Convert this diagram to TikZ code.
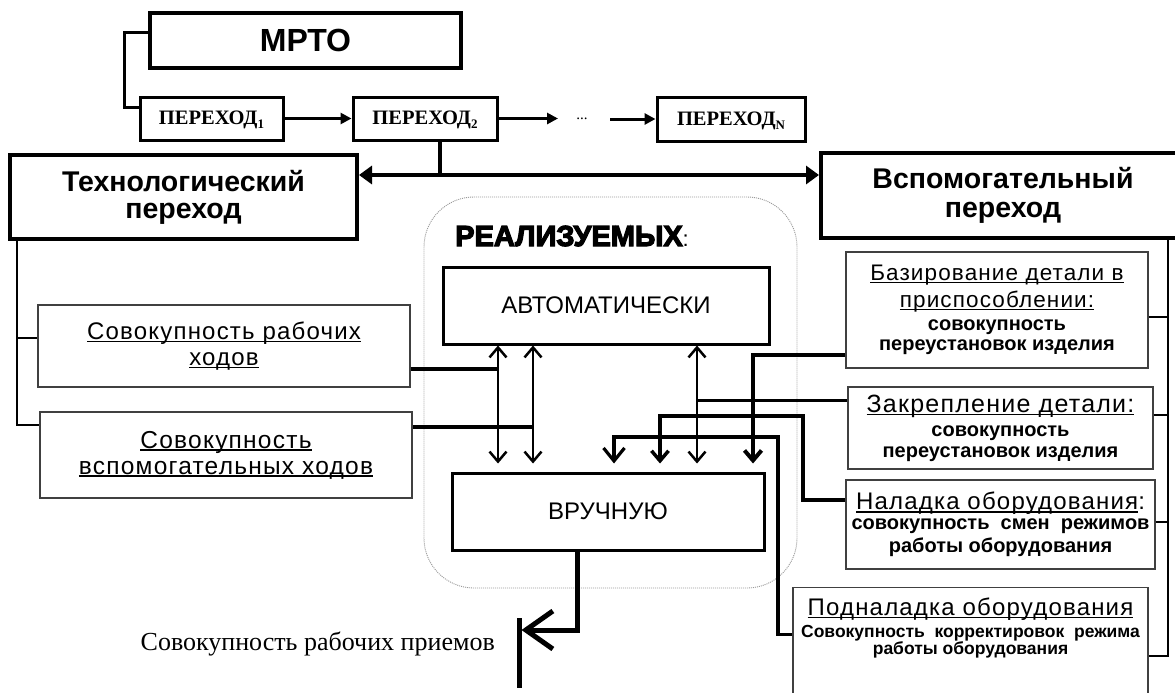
\documentclass[tikz,border=0pt]{standalone}
\usepackage{fontspec}
\setmainfont{Liberation Sans}
\newfontfamily\serifrm{Liberation Serif}
\newfontfamily\heavy[BoldFeatures={FakeBold=4}]{Liberation Sans}
\newfontfamily\spaced[LetterSpace=5]{Liberation Sans}
\usetikzlibrary{arrows.meta}
\newcommand\ulx[1]{\leavevmode\setbox0\hbox{#1}\rlap{\rule[-0.12em]{\wd0}{0.065em}}\box0}
\newcommand\fsz[2]{\fontsize{#1}{#2}\selectfont}
\newcommand\bl[1]{{\normalfont\bfseries\fsz{20}{20}#1}}
\newcommand\lowsub[1]{\raisebox{-4.5pt}{\fsz{13}{13}#1}}
\tikzset{
  thickbox/.style={draw, line width=4pt, inner sep=0pt, align=center},
  midbox/.style={draw, line width=3pt, inner sep=0pt, align=center},
  thinbox/.style={draw=black!75, line width=1.2pt, inner sep=0pt, align=center},
  perbox/.style={midbox, font=\serifrm\bfseries\fsz{20.5}{22}, text height=16pt, text depth=4pt},
  c2/.style={line width=2.2pt},
  c3/.style={line width=3pt},
  c4/.style={line width=4pt},
  tri/.style={-{Triangle[length=11pt,width=11pt]}},
  dtri/.style={{Triangle[length=13pt,width=18pt]}-{Triangle[length=13pt,width=18pt]}},
  barb/.style={-{Straight Barb[length=10pt,width=17pt]}},
  bigbarb/.style={-{Straight Barb[length=13pt,width=21pt]}},
  dbl/.style={line width=2.5pt,{Straight Barb[length=10pt,width=17pt]}-{Straight Barb[length=10pt,width=17pt]}},
}
\begin{document}
\begin{tikzpicture}[x=1pt,y=-1pt]
\useasboundingbox (0,0) rectangle (1175,693);
\clip (0,0) rectangle (1175,693);
\fill[white] (0,0) rectangle (1175,693);

% dotted frame
\node[draw=black!40, line width=0.9pt, dash pattern=on 1pt off 1pt, rounded corners=50pt,
      minimum width=373pt, minimum height=391pt, inner sep=0pt] (frame) at (610.5,392.5) {};

% top part
\node[thickbox, minimum width=311pt, minimum height=55pt, font=\bfseries\fsz{32}{36}] (mrto) at (305.5,40.5) {МРТО};
\node[perbox, minimum width=143pt, minimum height=43pt] (p1) at (211.5,118.5) {ПЕРЕХОД\lowsub{1}};
\node[perbox, minimum width=144pt, minimum height=43pt] (p2) at (425,118.5) {ПЕРЕХОД\lowsub{2}};
\node[perbox, minimum width=148pt, minimum height=44pt] (pN) at (731,119) {ПЕРЕХОД\lowsub{N}};
\node[font=\serifrm\fsz{15}{15}, inner sep=0pt] (dots) at (582,119) {...};

\node[thickbox, minimum width=347pt, minimum height=84pt, font=\bfseries\fsz{28.5}{27}] (tech) at (183.5,197) {Технологический\\переход};
\node[thickbox, minimum width=364pt, minimum height=85pt, font=\bfseries\fsz{28.5}{29}] (vsp) at (1003,195.5) {Вспомогательный\\переход};

% centre
\node[anchor=base west, inner sep=0pt, font=\heavy\bfseries\fsz{29}{30}] (real) at (455,246) {РЕАЛИЗУЕМЫХ{\mdseries\fsz{22}{22}:}};
\node[midbox, minimum width=326pt, minimum height=77pt, font=\fsz{24}{28}] (avt) at (606,305.5) {АВТОМАТИЧЕСКИ};
\node[midbox, minimum width=312pt, minimum height=77pt, font=\fsz{24}{28}] (vru) at (608,511.5) {ВРУЧНУЮ};

% left boxes
\node[thinbox, minimum width=372pt, minimum height=82pt, font=\spaced\fsz{24}{26}] (rab) at (224,346) {\ulx{Совокупность рабочих}\\\ulx{ходов}};
\node[thinbox, minimum width=372pt, minimum height=86pt, font=\spaced\fsz{24.5}{26}] (vsh) at (226,455) {\ulx{Совокупность}\\\ulx{вспомогательных ходов}};

% right boxes
\node[thinbox, minimum width=302pt, minimum height=116pt, font=\spaced\fsz{22.5}{27}] (baz) at (997,310)
  {\ulx{Базирование детали в}\\\ulx{приспособлении:}\\[-4pt]\bl{совокупность}\\[-7pt]\bl{переустановок изделия}};
\node[thinbox, minimum width=305pt, minimum height=82pt, font=\spaced\fsz{25}{27}] (zak) at (1000.5,428)
  {\ulx{Закрепление детали:}\\[-3pt]\bl{совокупность}\\[-6pt]\bl{переустановок изделия}};
\node[thinbox, minimum width=309pt, minimum height=89pt, font=\spaced\fsz{24}{27}] (nal) at (1000.5,524.5)
  {\ulx{Наладка оборудования}:\\[-7pt]\bl{совокупность\ \ смен\ \ режимов}\\[-4pt]\bl{работы оборудования}};
\node[thinbox, anchor=north, inner sep=0pt] (pod) at (970.5,587)
  {\parbox[c][125pt][t]{355pt}{\centering\spaced\fsz{24}{24}\vspace*{10pt}\ulx{Подналадка оборудования}\\[-2pt]{\normalfont\bfseries\fsz{17.5}{17.5}Совокупность\ \ корректировок\ \ режима}\\[-7pt]{\normalfont\bfseries\fsz{17.5}{17.5}работы оборудования}}};

% bottom
\node[anchor=base east, inner sep=0pt, font=\serifrm\fsz{26}{26}] (btxt) at (495,650) {Совокупность рабочих приемов};

% ---------- coordinates
\coordinate (lb) at (17,0);
\coordinate (rb) at (1168,0);
\coordinate (ml) at (124,0);
\coordinate (j) at (440,175);
\coordinate (d1) at (558,118.5);
\coordinate (d2) at (610,119);
\coordinate (xa) at (498,0);
\coordinate (xb) at (533,0);
\coordinate (xc) at (614,0);
\coordinate (xd) at (660,0);
\coordinate (xe) at (697,0);
\coordinate (xf) at (753,0);
\coordinate (xg) at (778,0);
\coordinate (xh) at (803,0);
\coordinate (h1) at (0,416);
\coordinate (h2) at (0,437);
\coordinate (vtop) at ([yshift=8pt]vru.north);
\coordinate (mrtoW) at ([yshift=7.5pt]mrto.west);
\coordinate (p1W) at ([yshift=11.5pt]p1.west);
\coordinate (rabW) at ([yshift=8pt]rab.west);
\coordinate (vshW) at ([yshift=30pt]vsh.west);
\coordinate (rabE) at ([yshift=-23pt]rab.east);
\coordinate (vshE) at ([yshift=28pt]vsh.east);
\coordinate (bazW) at ([yshift=-45pt]baz.west);
\coordinate (zakW) at ([yshift=28pt]zak.west);
\coordinate (nalW) at ([yshift=24.5pt]nal.west);
\coordinate (podW) at ([yshift=16pt]pod.west);
\coordinate (bazE) at ([yshift=-7pt]baz.east);
\coordinate (zakE) at ([yshift=13pt]zak.east);
\coordinate (nalE) at ([yshift=2.5pt]nal.east);
\coordinate (podE) at ([yshift=-5.5pt]pod.east);
\coordinate (vout) at ([xshift=-31pt]vru.south);
\coordinate (bart) at (519,618);
\coordinate (barbot) at (519,688);
\coordinate (barm) at (521.5,630);

% ---------- connectors
\draw[c3] (mrtoW) -| (ml |- p1W) -- (p1W);
\draw[c3,tri] (p1.east) -- (p2.west);
\draw[c3,tri] (p2.east) -- (d1);
\draw[c3,tri] (d2) -- (pN.west);
\draw[c4] (p2.south -| j) -- (j);
\draw[c4,dtri] (tech.east |- j) -- (vsp.west |- j);

\draw[c2] (tech.south -| lb) |- (vshW);
\draw[c2] (rabW -| lb) -- (rabW);

\draw[c4] (rabE) -- (rabE -| xa);
\draw[c4] (vshE) -- (vshE -| xb);
\draw[dbl] (avt.south -| xa) -- (vtop -| xa);
\draw[dbl] (avt.south -| xb) -- (vtop -| xb);

\draw[c4,barb] (bazW) -| (vtop -| xf);
\draw[c3] (zakW) -- (zakW -| xe);
\draw[dbl] (avt.south -| xe) -- (vtop -| xe);
\draw[line width=3.5pt,barb] (nalW) -| (h1 -| xh) -| (vtop -| xd);
\draw[line width=3.2pt,bigbarb] (podW) -| (h2 -| xg) -| (vtop -| xc);

\draw[c2] (vsp.south -| rb) |- (podE);
\draw[c2] (bazE) -- (bazE -| rb);
\draw[c2] (zakE) -- (zakE -| rb);
\draw[c2] (nalE) -- (nalE -| rb);

\draw[line width=5pt] (bart) -- (barbot);
\draw[line width=5pt,-{Straight Barb[length=27pt,width=38pt]}] (vout) |- (barm);
\end{tikzpicture}
\end{document}
